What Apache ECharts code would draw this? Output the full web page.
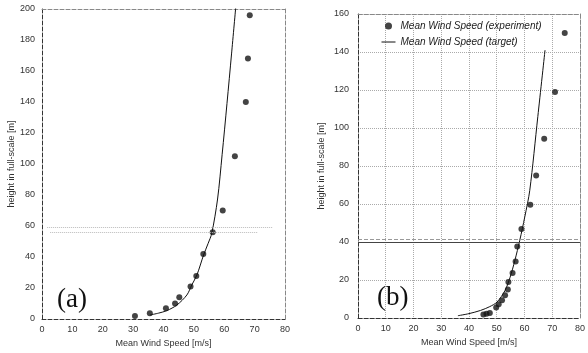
<!DOCTYPE html>
<html>
<head>
<meta charset="utf-8">
<script src="https://cdn.jsdelivr.net/npm/echarts@6/dist/echarts.min.js"></script>
<style>
    html, body { margin: 0; padding: 0; background: #fff; }
    #chart { width: 588px; height: 353px; }
</style>
</head>
<body>
<div id="chart"></div>
<script>
// (a) experiment points and target profile
const leftExpSpeed = [30.6, 35.5, 40.8, 43.8, 45.2, 48.9, 50.8, 53.1, 56.2, 59.5, 63.5, 67.1, 67.8, 68.4]
const leftExpHeight = [2, 3.7, 7, 10, 14, 21, 27.7, 42, 56, 70, 105, 140, 168, 196]
const leftTargetSpeed = [35.6, 38.4, 41.1, 44.4, 47.7, 49.3, 51.0, 53.2, 54.7, 55.9, 57.8, 59.3, 60.9, 62.4, 63.8]
const leftTargetHeight = [2.6, 3.8, 5.4, 9, 15.5, 21.9, 28.4, 41.3, 48.8, 55.3, 77.4, 106, 139, 171, 201.5]

// (b) experiment points and target profile
const rightExpSpeed = [45.2, 46.3, 47.5, 49.8, 50.7, 51.9, 53.0, 54.0, 54.2, 55.7, 56.8, 57.4, 58.9, 62.1, 64.2, 67.1, 71.0, 74.5]
const rightExpHeight = [1.8, 2.3, 2.6, 5.5, 7.2, 9.3, 12, 15, 19, 23.7, 29.8, 37.6, 46.8, 59.6, 75, 94.3, 119, 150]
const rightTargetSpeed = [36.0, 40.0, 44.2, 47.5, 50.1, 53.0, 54.8, 56.5, 58.3, 60.1, 61.9, 64.8, 67.4]
const rightTargetHeight = [1.2, 2.3, 4.0, 6.0, 8.4, 14.5, 21.4, 30.1, 40.9, 53.2, 67.2, 106, 141]

// stray horizontal lines in the scan
const leftDottedLines = [[1.7, 76, 59.2], [2.7, 70.9, 55.7]]
const rightSolidLine = 39.7
const rightDashedLine = 41.4

const pair = (xs, ys) => xs.map((x, i) => [x, ys[i]])

const font = "'Liberation Sans', Arial, sans-serif"
const tickLabel = { fontSize: 9, color: '#333', fontFamily: font }
const axisName = { fontSize: 9, color: '#333', fontFamily: font }

function frameAxis(gridIndex, position, color) {
    return {
        type: 'value', gridIndex, position, min: 0, max: position === 'top' ? 80 : 1,
        axisLine: { show: true, onZero: false, lineStyle: { color, type: 'dashed', width: 1 } },
        axisTick: { show: false }, axisLabel: { show: false }, splitLine: { show: false }
    }
}

const chart = echarts.init(document.getElementById('chart'))
chart.setOption({
    animation: false,
    title: [
        { text: '(a)', left: 52, top: 281, textStyle: { fontFamily: "'Liberation Serif', serif", fontSize: 27, fontWeight: 'normal', color: '#111' } },
        { text: '(b)', left: 372, top: 279, textStyle: { fontFamily: "'Liberation Serif', serif", fontSize: 27, fontWeight: 'normal', color: '#111' } }
    ],
    legend: {
        orient: 'vertical', left: 376, top: 16, itemWidth: 14, itemHeight: 7, itemGap: 6,
        textStyle: { fontSize: 10, fontStyle: 'italic', color: '#222', fontFamily: font },
        data: [
            { name: 'Mean Wind Speed (experiment)' },
            { name: 'Mean Wind Speed (target)', icon: 'line', itemStyle: { color: '#111', borderColor: '#111', borderWidth: 1 } }
        ]
    },
    grid: [
        { left: 42, right: 303, top: 9, bottom: 34 },
        { left: 358, right: 3, top: 14, bottom: 35 }
    ],
    xAxis: [
        {
            type: 'value', gridIndex: 0, min: 0, max: 80, interval: 10,
            name: 'Mean Wind Speed [m/s]', nameLocation: 'middle', nameGap: 19, nameTextStyle: axisName,
            axisLine: { onZero: false, lineStyle: { color: '#333', type: 'dashed' } },
            axisTick: { show: false }, axisLabel: { ...tickLabel, margin: 6 }, splitLine: { show: false }
        },
        frameAxis(0, 'top', '#888'),
        {
            type: 'value', gridIndex: 1, min: 0, max: 80, interval: 10,
            name: 'Mean Wind Speed [m/s]', nameLocation: 'middle', nameGap: 19, nameTextStyle: axisName,
            axisLine: { onZero: false, lineStyle: { color: '#333', type: 'dashed' } },
            axisTick: { show: false }, axisLabel: { ...tickLabel, margin: 6 },
            splitLine: { show: true, lineStyle: { color: '#aaa', type: 'dotted' } }
        },
        frameAxis(1, 'top', '#888')
    ],
    yAxis: [
        {
            type: 'value', gridIndex: 0, min: 0, max: 200, interval: 20,
            name: 'height in full-scale [m]', nameLocation: 'middle', nameGap: 26, nameTextStyle: axisName,
            axisLine: { show: true, onZero: false, lineStyle: { color: '#333', type: 'dashed' } },
            axisTick: { show: false }, axisLabel: { ...tickLabel, margin: 7 }, splitLine: { show: false }
        },
        { ...frameAxis(0, 'right', '#888'), max: 200 },
        {
            type: 'value', gridIndex: 1, min: 0, max: 160, interval: 20,
            name: 'height in full-scale [m]', nameLocation: 'middle', nameGap: 32, nameTextStyle: axisName,
            axisLine: { show: true, onZero: false, lineStyle: { color: '#333', type: 'dashed' } },
            axisTick: { show: false }, axisLabel: { ...tickLabel, margin: 9 },
            splitLine: { show: true, lineStyle: { color: '#aaa', type: 'dotted' } }
        },
        { ...frameAxis(1, 'right', '#888'), max: 160 }
    ],
    series: [
        {
            name: 'Mean Wind Speed (target)', type: 'line', xAxisIndex: 0, yAxisIndex: 0,
            data: pair(leftTargetSpeed, leftTargetHeight), symbol: 'none', smooth: 0.3,
            itemStyle: { color: '#111' },
            lineStyle: { color: '#111', width: 1 },
            markLine: {
                silent: true, symbol: 'none', label: { show: false },
                lineStyle: { color: '#bbb', type: 'dotted', width: 1 },
                data: leftDottedLines.map(l => [{ coord: [l[0], l[2]] }, { coord: [l[1], l[2]] }])
            }
        },
        {
            name: 'Mean Wind Speed (experiment)', type: 'scatter', xAxisIndex: 0, yAxisIndex: 0,
            data: pair(leftExpSpeed, leftExpHeight), symbolSize: 6,
            itemStyle: { color: '#151515' }
        },
        {
            name: 'Mean Wind Speed (target)', type: 'line', xAxisIndex: 2, yAxisIndex: 2,
            data: pair(rightTargetSpeed, rightTargetHeight), symbol: 'none', smooth: 0.3,
            itemStyle: { color: '#111' },
            lineStyle: { color: '#111', width: 1 },
            markLine: {
                silent: true, symbol: 'none', label: { show: false },
                data: [
                    { yAxis: rightSolidLine, lineStyle: { color: '#444', type: 'solid', width: 1 } },
                    { yAxis: rightDashedLine, lineStyle: { color: '#999', type: 'dashed', width: 1 } }
                ]
            }
        },
        {
            name: 'Mean Wind Speed (experiment)', type: 'scatter', xAxisIndex: 2, yAxisIndex: 2,
            data: pair(rightExpSpeed, rightExpHeight), symbolSize: 6,
            itemStyle: { color: '#151515' }
        }
    ]
})
</script>
</body>
</html>
